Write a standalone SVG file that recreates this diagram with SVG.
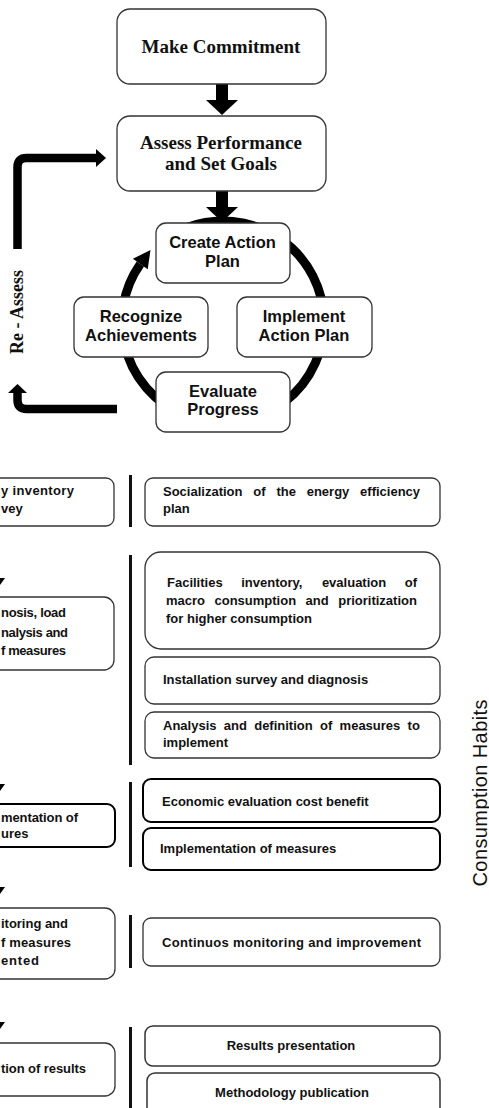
<svg xmlns="http://www.w3.org/2000/svg" width="489" height="1108" viewBox="0 0 489 1108">
<style>
.box{fill:#fff;stroke:#333;stroke-width:1.3}
.thick{fill:#fff;stroke:#000;stroke-width:2}
.serif{font-family:"Liberation Serif",serif;font-weight:bold;font-size:19px;text-anchor:middle;fill:#111}
.cal{font-family:"Liberation Sans",sans-serif;font-weight:bold;font-size:16.5px;text-anchor:middle;fill:#111}
.sm{font-family:"Liberation Sans",sans-serif;font-weight:bold;font-size:13px;fill:#111}
.mid{text-anchor:middle}
.bar{fill:#111}
.line{fill:none;stroke:#000;stroke-width:8.5}
.head{fill:#000}
</style>
<rect width="489" height="1108" fill="#fff"/>
<g id="connectors">
  <rect class="head" x="216" y="84" width="12" height="17"/>
  <polygon class="head" points="206,100 238,100 222,115"/>
  <rect class="head" x="216" y="191" width="12" height="17"/>
  <polygon class="head" points="206,207 238,207 222,222"/>
  <path d="M188.5,227.1 A101,101 0 1 1 140.3,264" fill="none" stroke="#000" stroke-width="9"/>
  <polygon class="head" points="132.9,258.8 147.7,269.2 150.5,250"/>
  <path class="line" d="M17.5,249 V167 Q17.5,158 26.5,158 H97"/>
  <polygon class="head" points="96,149 106,158 96,167"/>
  <path class="line" d="M117,409 H26.5 Q17.5,409 17.5,400 V392"/>
  <polygon class="head" points="8,393 27,393 17.5,384"/>
  <polygon class="head" points="-5,578 5,578 0,585"/>
  <polygon class="head" points="-5,784 5,784 0,791"/>
  <polygon class="head" points="-5,887 5,887 0,894"/>
  <polygon class="head" points="-5,1022 5,1022 0,1029"/>
  <rect class="bar" x="129" y="475" width="3" height="52"/>
  <rect class="bar" x="129" y="555" width="3" height="210"/>
  <rect class="bar" x="129" y="782" width="3" height="85"/>
  <rect class="bar" x="129" y="915" width="3" height="53"/>
  <rect class="bar" x="129" y="1027" width="3" height="81"/>
</g>
<text class="serif" style="font-size:18px" transform="translate(23,312) rotate(-90)">Re - Assess</text>
<g id="make-commitment">
  <rect class="box" x="117" y="9" width="209" height="75" rx="13"/>
  <text class="serif" x="221" y="53">Make Commitment</text>
</g>
<g id="assess-performance">
  <rect class="box" x="117" y="116" width="209" height="75" rx="13"/>
  <text class="serif" x="221" y="149">Assess Performance</text>
  <text class="serif" x="221" y="170">and Set Goals</text>
</g>
<g id="create-action-plan">
  <rect class="box" x="156" y="223" width="134" height="60" rx="10"/>
  <text class="cal" x="222.5" y="248">Create Action</text>
  <text class="cal" x="222.5" y="267">Plan</text>
</g>
<g id="recognize">
  <rect class="box" x="74" y="297" width="134" height="60" rx="10"/>
  <text class="cal" x="141" y="322">Recognize</text>
  <text class="cal" x="141" y="341">Achievements</text>
</g>
<g id="implement">
  <rect class="box" x="237" y="297" width="135" height="60" rx="10"/>
  <text class="cal" x="304" y="322">Implement</text>
  <text class="cal" x="304" y="341">Action Plan</text>
</g>
<g id="evaluate">
  <rect class="box" x="156" y="372" width="134" height="60" rx="10"/>
  <text class="cal" x="223" y="397">Evaluate</text>
  <text class="cal" x="223" y="415">Progress</text>
</g>
<g id="left-1">
  <rect class="box" x="-20" y="478" width="134" height="48" rx="8"/>
  <text class="sm" x="1" y="495" textLength="73">y inventory</text>
  <text class="sm" x="1" y="513">vey</text>
</g>
<g id="socialization">
  <rect class="box" x="145" y="478" width="295" height="48" rx="8"/>
  <text class="sm" y="496"><tspan x="163">Socialization</tspan> <tspan x="253.3">of</tspan> <tspan x="276.4">the</tspan> <tspan x="306.7">energy</tspan> <tspan x="360.1">efficiency</tspan></text>
  <text class="sm" x="163" y="513">plan</text>
</g>
<g id="left-2">
  <rect class="box" x="-20" y="597" width="134" height="73" rx="10"/>
  <text class="sm" x="1" y="617" textLength="65">nosis, load</text>
  <text class="sm" x="1" y="637" textLength="67">nalysis and</text>
  <text class="sm" x="1" y="655" textLength="65">f measures</text>
</g>
<g id="facilities">
  <rect class="box" x="145" y="552" width="295" height="97" rx="16"/>
  <text class="sm" y="587"><tspan x="167">Facilities</tspan> <tspan x="241.2">inventory,</tspan> <tspan x="321.9">evaluation</tspan> <tspan x="404.8">of</tspan></text>
  <text class="sm" y="605"><tspan x="166">macro</tspan> <tspan x="214.5">consumption</tspan> <tspan x="305.6">and</tspan> <tspan x="338.2">prioritization</tspan></text>
  <text class="sm" x="166" y="623">for higher consumption</text>
</g>
<g id="installation">
  <rect class="box" x="145" y="657" width="295" height="47" rx="9"/>
  <text class="sm" x="163" y="684">Installation survey and diagnosis</text>
</g>
<g id="analysis">
  <rect class="box" x="145" y="712" width="295" height="46" rx="9"/>
  <text class="sm" y="730"><tspan x="163">Analysis</tspan> <tspan x="223.8">and</tspan> <tspan x="254.2">definition</tspan> <tspan x="320">of</tspan> <tspan x="339.6">measures</tspan> <tspan x="407.6">to</tspan></text>
  <text class="sm" x="163" y="747">implement</text>
</g>
<g id="left-3">
  <rect class="thick" x="-20" y="804" width="135" height="43" rx="8"/>
  <text class="sm" x="1" y="822" textLength="77">mentation of</text>
  <text class="sm" x="1" y="838">ures</text>
</g>
<g id="economic">
  <rect class="thick" x="143" y="779" width="297" height="43" rx="8"/>
  <text class="sm" x="162" y="806">Economic evaluation cost benefit</text>
</g>
<g id="implementation">
  <rect class="thick" x="143" y="828" width="297" height="42" rx="8"/>
  <text class="sm" x="160" y="853">Implementation of measures</text>
</g>
<g id="left-4">
  <rect class="box" x="-20" y="908" width="135" height="71" rx="10"/>
  <text class="sm" x="1" y="928" textLength="67">itoring and</text>
  <text class="sm" x="1" y="947" textLength="70">f measures</text>
  <text class="sm" x="1" y="965" textLength="38">ented</text>
</g>
<g id="continuos">
  <rect class="box" x="143" y="918" width="297" height="48" rx="8"/>
  <text class="sm" x="162" y="947" textLength="259">Continuos monitoring and improvement</text>
</g>
<g id="left-5">
  <rect class="box" x="-20" y="1043" width="135" height="53" rx="10"/>
  <text class="sm" x="1" y="1073" textLength="85">tion of results</text>
</g>
<g id="results">
  <rect class="box" x="145" y="1026" width="295" height="40" rx="8" style="stroke-width:1.5"/>
  <text class="sm mid" x="291" y="1050">Results presentation</text>
</g>
<g id="methodology">
  <rect class="box" x="147" y="1073" width="293" height="50" rx="8" style="stroke-width:1.5"/>
  <text class="sm mid" x="292" y="1097">Methodology publication</text>
</g>
<text style="font-family:'Liberation Sans',sans-serif;font-size:20px;text-anchor:middle;fill:#111" transform="translate(487,793) rotate(-90)" textLength="187">Consumption Habits</text>
</svg>
